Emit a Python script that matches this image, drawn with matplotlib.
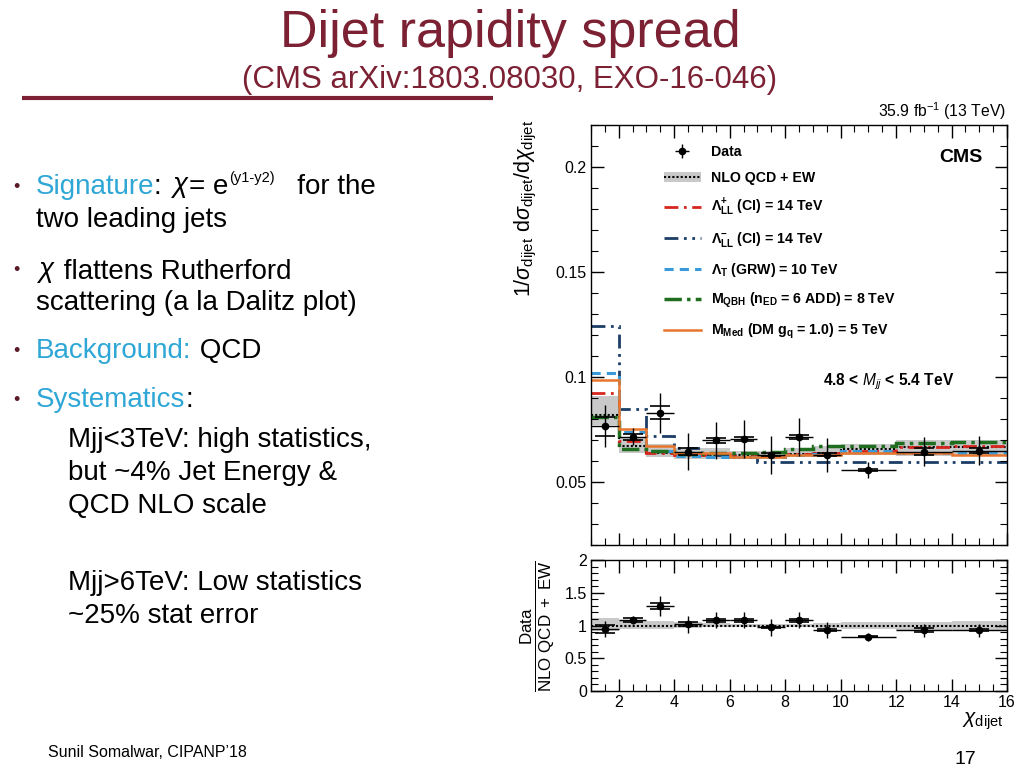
import matplotlib
matplotlib.use('Agg')
import matplotlib.pyplot as plt
from matplotlib.lines import Line2D
from matplotlib.patches import Patch
from matplotlib.ticker import MultipleLocator

plt.rcParams['font.family'] = ['Liberation Sans', 'DejaVu Sans']
plt.rcParams['mathtext.fontset'] = 'custom'
plt.rcParams['mathtext.rm'] = 'Liberation Sans'
plt.rcParams['mathtext.it'] = 'Liberation Sans:italic'
plt.rcParams['mathtext.bf'] = 'Liberation Sans:bold'

# chi_dijet bins
edges = [1, 2, 3, 4, 5, 6, 7, 8, 9, 10, 12, 14, 16]
centers = [1.5, 2.5, 3.5, 4.5, 5.5, 6.5, 7.5, 8.5, 9.5, 11, 13, 15]
half_w = [0.5, 0.5, 0.5, 0.5, 0.5, 0.5, 0.5, 0.5, 0.5, 1, 1, 1]

# normalized distribution, data (4.8 < Mjj < 5.4 TeV)
data = [0.0765, 0.0715, 0.0830, 0.0645, 0.0698, 0.0705, 0.0630, 0.0715, 0.0630, 0.0557, 0.0645, 0.0650]
data_tot = [0.0100, 0.0040, 0.0095, 0.0090, 0.0090, 0.0090, 0.0090, 0.0090, 0.0080, 0.0040, 0.0070, 0.0070]
data_stat = [0.0045, 0.0015, 0.0030, 0.0015, 0.0012, 0.0010, 0.0006, 0.0010, 0.0006, 0.0006, 0.0015, 0.0010]

# predictions
qcd = [0.0820, 0.0670, 0.0640, 0.0630, 0.0630, 0.0630, 0.0625, 0.0635, 0.0640, 0.0655, 0.0665, 0.0665]
qcd_lo = [0.0770, 0.0640, 0.0620, 0.0610, 0.0610, 0.0610, 0.0610, 0.0620, 0.0620, 0.0630, 0.0625, 0.0625]
qcd_hi = [0.0910, 0.0710, 0.0680, 0.0660, 0.0660, 0.0650, 0.0650, 0.0660, 0.0670, 0.0680, 0.0700, 0.0700]
ci_plus = [0.0925, 0.0697, 0.0640, 0.0630, 0.0630, 0.0625, 0.0625, 0.0635, 0.0640, 0.0649, 0.0665, 0.0672]
ci_minus = [0.1245, 0.0847, 0.0717, 0.0660, 0.0630, 0.0617, 0.0594, 0.0594, 0.0594, 0.0594, 0.0594, 0.0594]
grw = [0.1020, 0.0740, 0.0646, 0.0625, 0.0620, 0.0620, 0.0620, 0.0630, 0.0635, 0.0646, 0.0638, 0.0636]
qbh = [0.0810, 0.0655, 0.0648, 0.0635, 0.0640, 0.0640, 0.0645, 0.0657, 0.0670, 0.0672, 0.0686, 0.0690]
dm = [0.0985, 0.0752, 0.0670, 0.0640, 0.0640, 0.0620, 0.0620, 0.0630, 0.0630, 0.0640, 0.0640, 0.0630]

# ratio panel
ratio = [0.95, 1.08, 1.30, 1.02, 1.08, 1.08, 0.97, 1.08, 0.93, 0.83, 0.93, 0.93]
ratio_tot = [0.12, 0.06, 0.15, 0.13, 0.12, 0.12, 0.13, 0.12, 0.12, 0.06, 0.10, 0.10]
ratio_stat = [0.06, 0.03, 0.05, 0.03, 0.02, 0.02, 0.01, 0.02, 0.01, 0.01, 0.03, 0.02]
rband_lo = [0.92, 0.95, 0.95, 0.96, 0.97, 0.97, 0.97, 0.97, 0.96, 0.95, 0.93, 0.92]
rband_hi = [1.12, 1.08, 1.07, 1.05, 1.04, 1.03, 1.03, 1.03, 1.04, 1.05, 1.06, 1.07]

maroon = '#7b2133'
cyan = '#2fa7d6'

fig = plt.figure(figsize=(10.24, 7.68), dpi=100)

# background axes in pixel coordinates for the slide text (kept on top)
bg = fig.add_axes([0, 0, 1, 1])
bg.set_xlim(0, 1024)
bg.set_ylim(768, 0)
bg.axis('off')
bg.set_zorder(10)

bg.text(510, 47, 'Dijet rapidity spread', color=maroon, fontsize=37.5, ha='center', va='baseline')
bg.text(510, 88, '(CMS arXiv:1803.08030, EXO-16-046)', color=maroon, fontsize=22.5, ha='center', va='baseline')
bg.plot([22, 493], [98, 98], color=maroon, lw=3, solid_capstyle='butt')

fs = 20


def chain(prev, s, color='black', size=fs, dy=0, yref=None, style='normal'):
    yc = prev if yref is None else yref
    return bg.annotate(s, xy=(1, 0), xycoords=(prev, yc), xytext=(0, dy), textcoords='offset points',
                       ha='left', va='bottom', color=color, fontsize=size, style=style)


def bullet(y):
    bg.text(13, y - 2, '\u2022', color='#5a1a28', fontsize=13, ha='left', va='baseline')


bullet(194)
t = bg.text(36, 194, 'Signature', color=cyan, fontsize=fs, va='baseline')
t = chain(t, ': ')
t = chain(t, r'$\chi$')
t_e = chain(t, '= e')
t_sup = chain(t_e, '(y1-y2)', size=10.5, dy=11)
chain(t_sup, '   for the', yref=t_e)
bg.text(36, 227, 'two leading jets', fontsize=fs, va='baseline')

bullet(277)
t = bg.text(36, 277, r'$\chi$', fontsize=fs, va='baseline')
chain(t, ' flattens Rutherford')
bg.text(36, 310, 'scattering (a la Dalitz plot)', fontsize=fs, va='baseline')

bullet(358)
t = bg.text(36, 358, 'Background:', color=cyan, fontsize=fs, va='baseline')
chain(t, ' QCD')

bullet(407)
t = bg.text(36, 407, 'Systematics', color=cyan, fontsize=fs, va='baseline')
chain(t, ':')
bg.text(68, 447, 'Mjj<3TeV: high statistics,', fontsize=fs, va='baseline')
bg.text(68, 480, 'but ~4% Jet Energy &', fontsize=fs, va='baseline')
bg.text(68, 513, 'QCD NLO scale', fontsize=fs, va='baseline')
bg.text(68, 590, 'Mjj>6TeV: Low statistics', fontsize=fs, va='baseline')
bg.text(68, 623, '~25% stat error', fontsize=fs, va='baseline')

bg.text(48, 757, 'Sunil Somalwar, CIPANP\u201918', fontsize=11.5, va='baseline')
bg.text(965, 764, '17', fontsize=14, ha='center', va='baseline')

# chart annotations
bg.text(1006, 117, r'35.9 fb$^{-1}$ (13 TeV)', fontsize=11.3, ha='right', va='baseline')
bg.text(983, 162, 'CMS', fontsize=14, fontweight='bold', ha='right', va='baseline')
bg.text(889, 385, r'4.8 < $\mathbf{\mathit{M}_{\mathit{jj}}}$ < 5.4 TeV', fontsize=11.2, fontweight='bold',
        ha='center', va='baseline')
bg.text(526, 208, r'1/$\sigma_{\rm dijet}$ d$\sigma_{\rm dijet}$/d$\chi_{\rm dijet}$', fontsize=15.5,
        rotation=90, ha='center', va='center')
bg.text(538, 626, r'$\frac{\mathrm{Data}}{\mathrm{NLO\ QCD\ +\ EW}}$', fontsize=17.5,
        rotation=90, ha='center', va='center')
bg.text(983, 711, r'$\chi_{\rm dijet}$', fontsize=15, ha='center', va='top')

# main panel
ax = fig.add_axes([591 / 1024, 1 - 545 / 768, 416 / 1024, 420 / 768])
ax.stairs(qcd_hi, edges, baseline=qcd_lo, fill=True, color='#c9c9c9', lw=0)
ax.stairs(qcd, edges, baseline=None, color='black', ls=(0, (1, 1)), lw=1.5)
ax.stairs(ci_plus, edges, baseline=None, color='#d7261e', ls=(0, (5, 2, 1, 2)), lw=2)
ax.stairs(ci_minus, edges, baseline=None, color='#1c3d66', ls=(0, (5, 2, 1, 2, 1, 2)), lw=2)
ax.stairs(grw, edges, baseline=None, color='#3a9ad9', ls=(0, (3, 2)), lw=2.2)
ax.stairs(qbh, edges, baseline=None, color='#1f6e1f', ls=(0, (5, 1.5, 1, 1.5)), lw=2.5)
ax.stairs(dm, edges, baseline=None, color='#e8762c', lw=1.8)
eb = ax.errorbar(centers, data, xerr=half_w, yerr=data_tot, fmt='o', color='black', ms=4.5, elinewidth=1,
                 capsize=0, zorder=5)
ax.errorbar(centers, data, yerr=data_stat, fmt='none', ecolor='black', elinewidth=0, capsize=7,
            capthick=1.2, zorder=5)

ax.set_xlim(1, 16)
ax.set_ylim(0.02, 0.22)
ax.set_yticks([0.05, 0.1, 0.15, 0.2])
ax.set_yticklabels(['0.05', '0.1', '0.15', '0.2'])
ax.yaxis.set_minor_locator(MultipleLocator(0.01))
ax.xaxis.set_major_locator(MultipleLocator(2))
ax.xaxis.set_minor_locator(MultipleLocator(0.5))
ax.tick_params(labelbottom=False)

handles = [eb,
           (Patch(facecolor='#c9c9c9'), Line2D([], [], color='black', ls=(0, (1, 1)), lw=1.5)),
           Line2D([], [], color='#d7261e', ls=(0, (5, 2, 1, 2)), lw=2),
           Line2D([], [], color='#1c3d66', ls=(0, (5, 2, 1, 2, 1, 2)), lw=2),
           Line2D([], [], color='#3a9ad9', ls=(0, (3, 2)), lw=2.2),
           Line2D([], [], color='#1f6e1f', ls=(0, (5, 1.5, 1, 1.5)), lw=2.5),
           Line2D([], [], color='#e8762c', lw=1.8)]
labels = ['Data', 'NLO QCD + EW',
          r'$\mathbf{\Lambda^{+}_{LL}}$ (CI) = 14 TeV',
          r'$\mathbf{\Lambda^{-}_{LL}}$ (CI) = 14 TeV',
          r'$\mathbf{\Lambda_{T}}$ (GRW) = 10 TeV',
          r'$\mathbf{M_{QBH}}$ ($\mathbf{n_{ED}}$ = 6 ADD) = 8 TeV',
          r'$\mathbf{M_{Med}}$ (DM $\mathbf{g_{q}}$ = 1.0) = 5 TeV']
ax.legend(handles, labels, loc='upper left', bbox_to_anchor=(0.175, 0.952), frameon=False,
          prop={'weight': 'bold', 'size': 10.2}, handlelength=2.6, handletextpad=0.75,
          labelspacing=0.84, borderpad=0, borderaxespad=0)

# ratio panel
rax = fig.add_axes([591 / 1024, 1 - 691 / 768, 416 / 1024, 131 / 768])
rax.stairs(rband_hi, edges, baseline=rband_lo, fill=True, color='#c9c9c9', lw=0)
rax.axhline(1, color='black', ls=(0, (1, 1)), lw=1.5)
rax.errorbar(centers, ratio, xerr=half_w, yerr=ratio_tot, fmt='o', color='black', ms=4.5, elinewidth=1,
             capsize=0, zorder=5)
rax.errorbar(centers, ratio, yerr=ratio_stat, fmt='none', ecolor='black', elinewidth=0, capsize=7,
             capthick=1.2, zorder=5)
rax.set_xlim(1, 16)
rax.set_ylim(0, 2)
rax.set_yticks([0, 0.5, 1, 1.5, 2])
rax.set_yticklabels(['0', '0.5', '1', '1.5', '2'])
rax.yaxis.set_minor_locator(MultipleLocator(0.1))
rax.xaxis.set_major_locator(MultipleLocator(2))
rax.xaxis.set_minor_locator(MultipleLocator(0.5))

for a in (ax, rax):
    a.tick_params(which='both', direction='in', top=True, right=True, labelsize=11.5, pad=3)
    a.tick_params(which='major', length=9, width=1)
    a.tick_params(which='minor', length=5, width=0.8)
    for sp in a.spines.values():
        sp.set_linewidth(1)

fig.savefig('out.png', dpi=100)
